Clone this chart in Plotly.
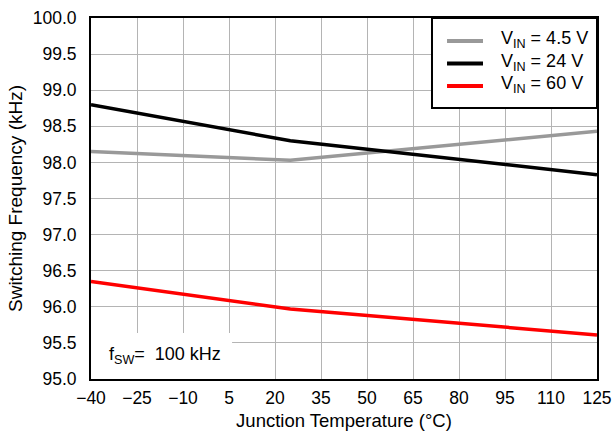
import plotly.graph_objects as go

temps = [-40, 25, 125]
f_45 = [98.15, 98.03, 98.43]
f_24 = [98.80, 98.30, 97.83]
f_60 = [96.35, 95.97, 95.61]
x_ticks = list(range(-40, 126, 15))
y_ticks = [95.0 + 0.5 * i for i in range(11)]

series_names = ["V<sub>IN</sub> = 4.5 V", "V<sub>IN</sub> = 24 V", "V<sub>IN</sub> = 60 V"]
series_colors = ["#999999", "#000000", "#ff0000"]
series_values = [f_45, f_24, f_60]

FONT = "Liberation Sans, Arial"

fig = go.Figure()
for name, color, vals in zip(series_names, series_colors, series_values):
    fig.add_trace(go.Scatter(x=temps, y=vals, mode="lines", name=name, showlegend=False,
                             line=dict(color=color, width=3.5)))

# note box (covers grid lines, below traces)
fig.add_shape(type="rect", xref="x", yref="y", x0=-40, x1=6.0, y0=95.0, y1=95.637,
              fillcolor="white", line=dict(width=0), layer="between")
fig.add_annotation(x=-34.8, y=95.32, xref="x", yref="y", xanchor="left", yanchor="middle",
                   text="f<sub>SW</sub>=  100 kHz", showarrow=False,
                   font=dict(size=18, color="black", family=FONT))

# legend box drawn in axis-domain coordinates
fig.add_shape(type="rect", xref="x domain", yref="y domain", x0=0.6739, x1=1.0, y0=0.7507, y1=1.0,
              fillcolor="white", line=dict(color="black", width=2), layer="above")
leg_line_y = [0.9363, 0.8740, 0.8116]
for name, color, ly in zip(series_names, series_colors, leg_line_y):
    fig.add_shape(type="line", xref="x domain", yref="y domain", x0=0.7036, x1=0.7747, y0=ly, y1=ly,
                  line=dict(color=color, width=4), layer="above")
    fig.add_annotation(x=0.806, y=ly + 0.003, xref="x domain", yref="y domain",
                       xanchor="left", yanchor="middle", text=name, showarrow=False,
                       font=dict(size=18, color="black", family=FONT))

fig.update_layout(
    width=613, height=431,
    margin=dict(l=91, r=16, t=18, b=52, autoexpand=False),
    paper_bgcolor="white", plot_bgcolor="white",
    font=dict(family=FONT, size=17.5, color="black"),
    showlegend=False,
)
fig.update_xaxes(range=[-40, 125], tickvals=x_ticks, showgrid=True, gridcolor="#b4b4b4", gridwidth=1,
                 showline=True, linecolor="black", linewidth=2, mirror=True, ticks="",
                 ticklabelstandoff=2, automargin=False,
                 title=dict(text="Junction Temperature (°C)", font=dict(size=18.5), standoff=9),
                 tickfont=dict(size=17.5), zeroline=False)
fig.update_yaxes(range=[95, 100], tickvals=y_ticks, tickformat=".1f", showgrid=True, gridcolor="#b4b4b4", gridwidth=1,
                 showline=True, linecolor="black", linewidth=2, mirror=True, ticks="",
                 ticklabelstandoff=9, automargin=False,
                 title=dict(text="Switching Frequency (kHz)", font=dict(size=19), standoff=5),
                 tickfont=dict(size=17.5), zeroline=False)

fig.write_html("out.html", config={"displayModeBar": False},
               post_script="document.body.style.margin='0';document.documentElement.style.overflow='hidden';")
